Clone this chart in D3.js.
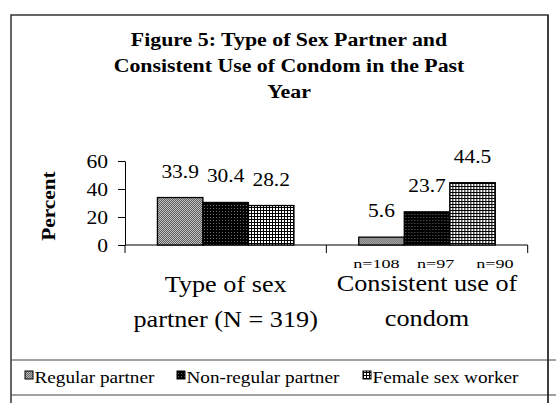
<!DOCTYPE html>
<html><head><meta charset="utf-8">
<script src="https://cdn.jsdelivr.net/npm/d3@7"></script>
<style>body{margin:0;background:#fff}svg{display:block}</style>
</head><body>
<script>
const titleLines = ["Figure 5: Type of Sex Partner and", "Consistent Use of Condom in the Past", "Year"];
const categories = ["Type of sex partner (N = 319)", "Consistent use of condom"];
const categoryLines = [["Type of sex", "partner  (N = 319)"], ["Consistent use of", "condom"]];
const seriesNames = ["Regular partner", "Non-regular partner", "Female sex worker"];
const typeOfPartner = [33.9, 30.4, 28.2];
const consistentUse = [5.6, 23.7, 44.5];
const sampleSizes = ["n=108", "n=97", "n=90"];
const yTicks = [0, 20, 40, 60];
const yLabel = "Percent";

const W = 556, H = 403;
const FONT = "'Liberation Serif','Times New Roman',serif";
const svg = d3.select("body").append("svg").attr("width", W).attr("height", H);

// patterns
const defs = svg.append("defs");
function pat(id, size, bg, cells) {
  const p = defs.append("pattern").attr("id", id).attr("patternUnits", "userSpaceOnUse")
    .attr("width", size).attr("height", size);
  p.append("rect").attr("width", size).attr("height", size).attr("fill", bg).attr("shape-rendering", "crispEdges");
  cells.forEach(c => p.append("rect").attr("x", c[0]).attr("y", c[1]).attr("width", c[2]).attr("height", c[3])
    .attr("fill", c[4]).attr("shape-rendering", "crispEdges"));
}
pat("p0", 2, "#bdbdbd", [[0, 0, 1, 1, "#606060"], [1, 1, 1, 1, "#606060"]]);
pat("p1", 3, "#000", [[1, 1, 1, 1, "#6a6a6a"]]);
pat("p2", 3, "#000", [[1, 1, 2, 2, "#fff"]]);
const fills = ["url(#p0)", "url(#p1)", "url(#p2)"];

// frame
svg.append("rect").attr("x", 11).attr("y", 15).attr("width", 537).attr("height", 420)
  .attr("fill", "none").attr("stroke", "#333").attr("stroke-width", 1.5);

function stext(g, x, y, str, size, sx, opts = {}) {
  return g.append("text").attr("transform", `translate(${x},${y}) scale(${sx},1)`)
    .attr("font-family", FONT).attr("font-size", size)
    .attr("font-weight", opts.bold ? "bold" : "normal")
    .attr("text-anchor", opts.anchor || "middle").attr("fill", "#000").text(str);
}

// title
titleLines.forEach((t, i) => stext(svg, 289, 46 + i * 26, t, 19, 1.15, { bold: true }));

// scales
const y = d3.scaleLinear().domain([0, 60]).range([245, 161]);
const x = d3.scaleBand().domain(categories).range([125, 527.7]).padding(0);
const xs = d3.scaleBand().domain(seriesNames).range([0, x.bandwidth()]).paddingInner(0).paddingOuter(0.712);

const data = categories.map((c, i) => ({ cat: c, values: i === 0 ? typeOfPartner : consistentUse }));

// y axis
const yAxis = svg.append("g").attr("transform", "translate(125,0)")
  .call(d3.axisLeft(y).tickValues(yTicks).tickSize(7).tickSizeOuter(0).tickFormat(d3.format("d")));
yAxis.select(".domain").attr("stroke", "#000");
yAxis.selectAll(".tick line").attr("stroke", "#000");
yAxis.selectAll(".tick text").attr("x", null).attr("dy", null)
  .attr("transform", "translate(-17,6) scale(1.2,1)")
  .attr("font-family", FONT).attr("font-size", 18).attr("fill", "#000");

// x axis line + category boundary ticks
const [x0, x1] = x.range();
svg.append("line").attr("x1", x0).attr("x2", x1).attr("y1", y(0)).attr("y2", y(0)).attr("stroke", "#000");
const bounds = [x0, ...categories.slice(1).map(c => x(c)), x1];
svg.selectAll(".xtick").data(bounds).join("line").attr("class", "xtick")
  .attr("x1", d => d).attr("x2", d => d).attr("y1", y(0)).attr("y2", y(0) + 8).attr("stroke", "#000");

// bars
const gCat = svg.selectAll(".cat").data(data).join("g").attr("class", "cat")
  .attr("transform", d => `translate(${x(d.cat)},0)`);
gCat.selectAll("rect").data(d => d.values.map((v, j) => ({ v, s: seriesNames[j], j })))
  .join("rect")
  .attr("x", d => xs(d.s)).attr("width", xs.bandwidth())
  .attr("y", d => y(d.v)).attr("height", d => y(0) - y(d.v))
  .attr("fill", d => fills[d.j]).attr("stroke", "#000").attr("stroke-width", 1.3);
gCat.each(function (d) {
  const g = d3.select(this);
  d.values.forEach((v, j) => stext(g, xs(seriesNames[j]) + xs.bandwidth() / 2, y(v) - 20, d3.format(".1f")(v), 19, 1.13));
});

// sample sizes under second category
const c2 = x(categories[1]);
sampleSizes.forEach((s, j) => stext(svg, c2 + 50 + j * 59.3, 267.5, s, 12.5, 1.45));

// category labels
categoryLines.forEach((lines, i) => {
  const cx = x(categories[i]) + x.bandwidth() / 2;
  lines.forEach((l, k) => stext(svg, cx, (i === 0 ? 292 : 291) + k * 35, l, 23, 1.14));
});

// y label
svg.append("text").attr("transform", "translate(55,206) rotate(-90) scale(1.12,1)")
  .attr("font-family", FONT).attr("font-size", 19).attr("font-weight", "bold")
  .attr("text-anchor", "middle").text(yLabel);

// legend box
svg.append("line").attr("x1", 11).attr("x2", W).attr("y1", 360).attr("y2", 360).attr("stroke", "#444");
svg.append("line").attr("x1", 11).attr("x2", W).attr("y1", 395).attr("y2", 395).attr("stroke", "#444");
const legX = [25, 177, 363];
seriesNames.forEach((s, j) => {
  svg.append("rect").attr("x", legX[j]).attr("y", 371).attr("width", 8).attr("height", 8)
    .attr("fill", fills[j]).attr("stroke", "#000").attr("stroke-width", 1);
  stext(svg, legX[j] + 9.5, 383, s, 16, 1.2, { anchor: "start" });
});
svg.append("line").attr("x1", 548).attr("x2", 548).attr("y1", 15).attr("y2", H).attr("stroke", "#222").attr("stroke-width", 1.2);
</script>
</body></html>
